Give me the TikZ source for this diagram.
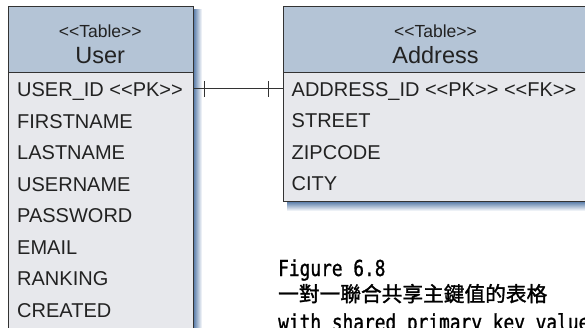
\documentclass[tikz,border=0pt]{standalone}
\usepackage{fontspec}
\setmainfont{Liberation Sans}[Ligatures=TeXOff]
\newfontfamily\capmono{DejaVu Sans Mono}[Ligatures=TeXOff, FakeBold=1.2]
\newfontfamily\cjk{Noto Sans CJK TC}[FakeBold=1.5]
\definecolor{hdr}{HTML}{B4C4D6}
\definecolor{bdy}{HTML}{E7E8EC}
\definecolor{edge}{HTML}{333333}
\definecolor{drop}{HTML}{4F74A4}
\definecolor{ink}{HTML}{222222}
\begin{document}
\begin{tikzpicture}[x=1pt,y=1pt,
  tablehead/.style={draw=edge, line width=1pt, fill=hdr, inner sep=0pt, anchor=north west},
  tablebody/.style={draw=edge, line width=1pt, fill=bdy, inner sep=0pt, anchor=north west},
  stereo/.style={anchor=base, inner sep=0pt, text=ink, font=\fontsize{17.5}{20}\selectfont},
  tname/.style={anchor=base, inner sep=0pt, text=ink, font=\fontsize{23.5}{27}\selectfont},
  field/.style={anchor=base west, inner sep=0pt, text height=15.4pt, text depth=0pt, text=ink, font=\fontsize{20}{24}\selectfont},
  caption/.style={anchor=base west, inner sep=0pt, text=black, font=\capmono\fontsize{22}{26}\selectfont},
  captionzh/.style={anchor=base west, inner sep=0pt, text=black, font=\cjk\fontsize{20.7}{24}\selectfont},
  link/.style={draw=edge, line width=1pt}]
\useasboundingbox (0,0) rectangle (585,-328);

% drop shadows
\shade[left color=drop, right color=white] (193,-10) rectangle (202,-345);
\shade[top color=drop, bottom color=white] (287,-201) rectangle (600,-211);

% table User
\node[tablehead, minimum width=185.5pt, minimum height=66pt] (userhead) at (7.5,-6.5) {};
\node[tablebody, minimum width=185.5pt, minimum height=270pt] (userbody) at (7.5,-72.5) {};
\node[stereo] (userst) at (100.25,-37.7) {<<Table>>};
\node[tname] (username) at (100.25,-64) {User};
\node[field] (uid) at (17,-96.7) {USER\_ID <<PK>>};
\node[field] (ufirst) at (17,-128.2) {FIRSTNAME};
\node[field] (ulast) at (17,-159.7) {LASTNAME};
\node[field] (uuser) at (17,-191.2) {USERNAME};
\node[field] (upass) at (17,-222.7) {PASSWORD};
\node[field] (umail) at (17,-254.2) {EMAIL};
\node[field] (urank) at (17,-285.7) {RANKING};
\node[field] (ucreated) at (17,-317.2) {CREATED};

% table Address
\node[tablehead, minimum width=305pt, minimum height=66pt] (addrhead) at (283,-6.5) {};
\node[tablebody, minimum width=305pt, minimum height=128.5pt] (addrbody) at (283,-72.5) {};
\node[stereo] (addrst) at (435.5,-37.7) {<<Table>>};
\node[tname] (addrname) at (435.5,-64) {Address};
\node[field] (aid) at (291.5,-96.7) {ADDRESS\_ID <<PK>> <<FK>>};
\node[field] (astreet) at (291.5,-127.5) {STREET};
\node[field] (azip) at (291.5,-159.3) {ZIPCODE};
\node[field] (acity) at (291.5,-190.5) {CITY};

% one-to-one link between the primary keys
\draw[link] (userbody.east |- uid.center) -- (addrbody.west |- aid.center);
\draw[link] ([xshift=10.5pt]userbody.east |- uid.center) ++(0,8) -- ++(0,-16);
\draw[link] ([xshift=-15pt]addrbody.west |- aid.center) ++(0,8) -- ++(0,-16);

% caption
\node[caption] (figno) at (278,-276) {\scalebox{0.81}[1]{Figure 6.8}};
\node[captionzh] (figzh) at (278,-301.5) {一對一聯合共享主鍵值的表格};
\node[caption] (figen) at (278,-330) {\scalebox{0.81}[1]{with shared primary key value}};
\end{tikzpicture}
\end{document}
